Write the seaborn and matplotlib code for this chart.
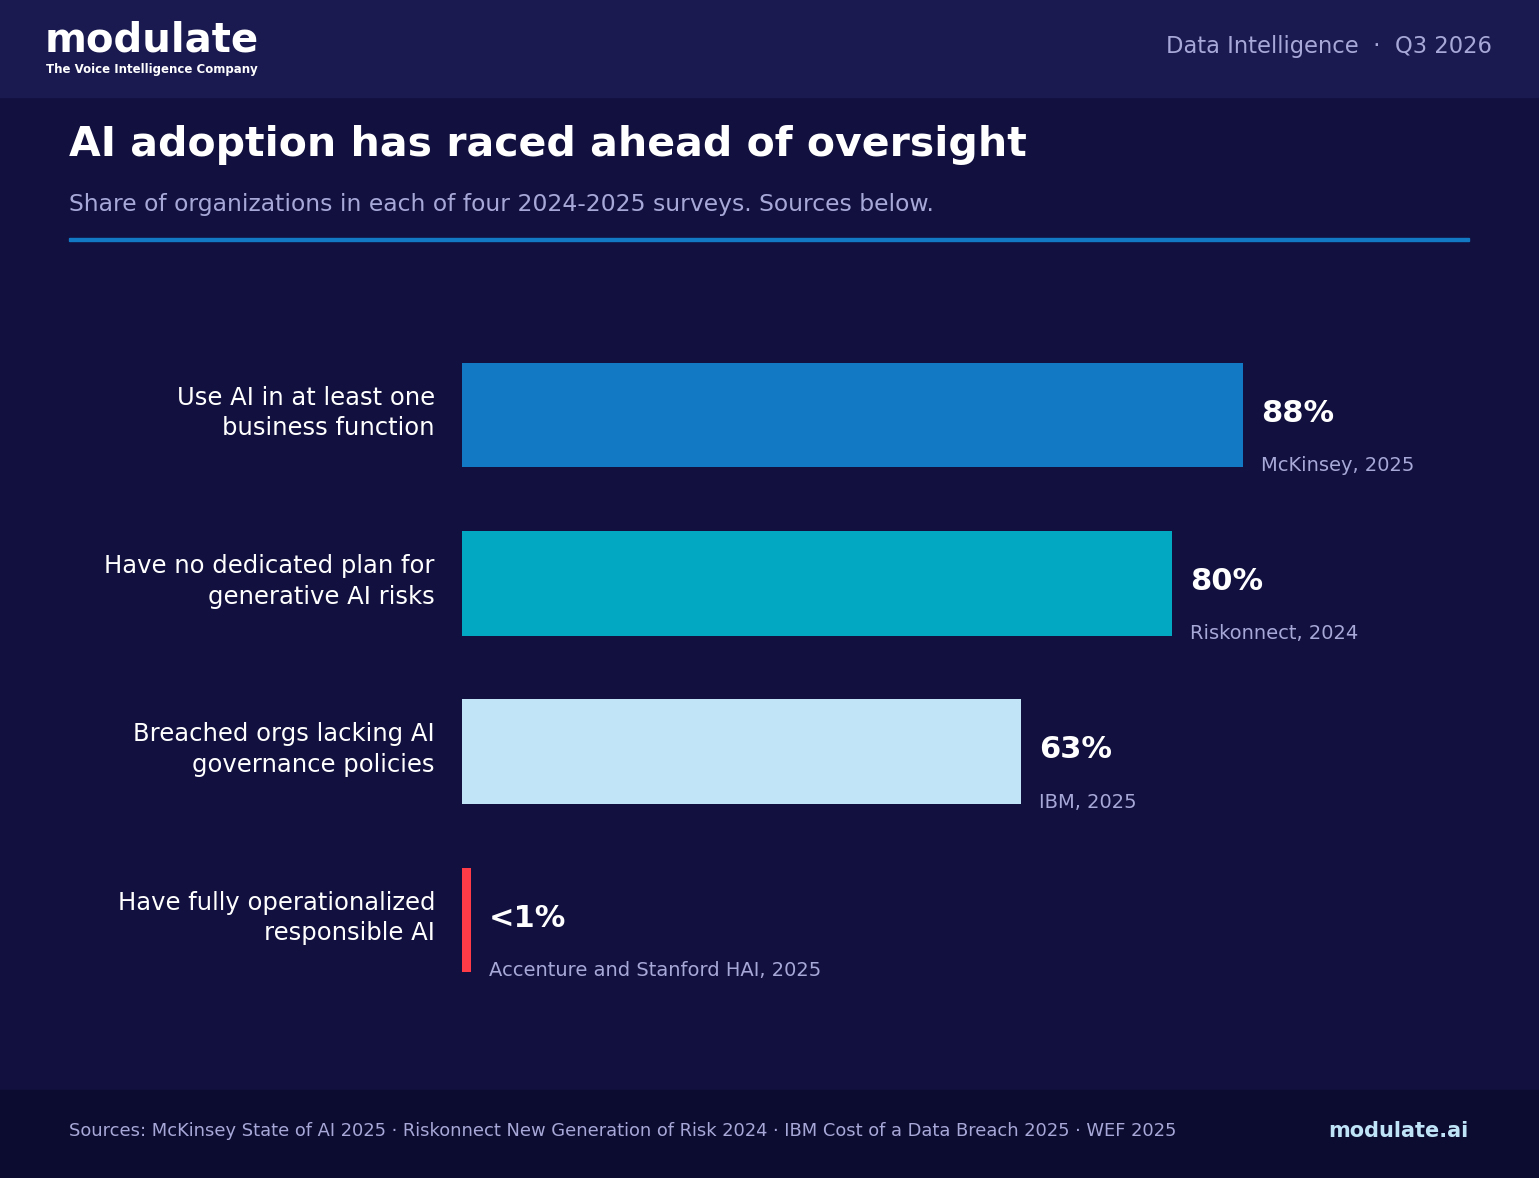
import matplotlib
matplotlib.use("Agg")
import matplotlib.pyplot as plt
import matplotlib.transforms as mtrans
import seaborn as sns
import pandas as pd
from matplotlib.patches import Rectangle

categories = ["Use AI in at least one\nbusiness function",
              "Have no dedicated plan for\ngenerative AI risks",
              "Breached orgs lacking AI\ngovernance policies",
              "Have fully operationalized\nresponsible AI"]
values = [88, 80, 63, 1]
value_labels = ["88%", "80%", "63%", "<1%"]
sources = ["McKinsey, 2025", "Riskonnect, 2024", "IBM, 2025",
           "Accenture and Stanford HAI, 2025"]
colors = ["#1279C4", "#02A8C2", "#C2E4F7", "#FF3B47"]

df = pd.DataFrame({"cat": categories, "val": values})

sns.set_theme(style="white")
plt.rcParams['font.family'] = ['DejaVu Sans']

W, H = 1539, 1178
fig = plt.figure(figsize=(W / 100, H / 100), dpi=100)
fig.patch.set_facecolor("#11103E")
# header and footer bands
fig.patches.append(Rectangle((0, 1 - 97 / H), 1, 97 / H, transform=fig.transFigure,
                             color="#1A1A50", zorder=0))
fig.patches.append(Rectangle((0, 0), 1, 88 / H, transform=fig.transFigure,
                             color="#0C0B30", zorder=0))
fig.patches.append(Rectangle((69 / W, 1 - 241 / H), 1400 / W, 3 / H,
                             transform=fig.transFigure, color="#1279C4", zorder=1))

fig.text(45 / W, 1 - 40 / H, "modulate", color="white", fontsize=29, weight="bold",
         va="center", ha="left")
fig.text(46 / W, 1 - 70 / H, "The Voice Intelligence Company", color="white",
         fontsize=8.5, weight="bold", va="center", ha="left")
fig.text(1492 / W, 1 - 47 / H, "Data Intelligence  ·  Q3 2026", color="#A8A8D8",
         fontsize=16.3, va="center", ha="right")
fig.text(69 / W, 1 - 145 / H, "AI adoption has raced ahead of oversight", color="white",
         fontsize=29.5, weight="bold", va="center", ha="left")
fig.text(69 / W, 1 - 205 / H,
         "Share of organizations in each of four 2024-2025 surveys. Sources below.",
         color="#A8A8D8", fontsize=16.9, va="center", ha="left")
fig.text(69 / W, 1 - 1131 / H,
         "Sources: McKinsey State of AI 2025 · Riskonnect New Generation of Risk 2024 · "
         "IBM Cost of a Data Breach 2025 · WEF 2025",
         color="#A8A8D8", fontsize=12.9, va="center", ha="left")
fig.text(1469 / W, 1 - 1131 / H, "modulate.ai", color="#BFE3F7", fontsize=15,
         weight="bold", va="center", ha="right")

ax = fig.add_axes([462 / W, 1 - 1004 / H, 887.5 / W, 673 / H])
ax.set_facecolor("none")
sns.barplot(data=df, x="val", y="cat", hue="cat", palette=colors, legend=False,
            width=0.62, saturation=1, linewidth=0, ax=ax, orient="h")
ax.set_xlim(0, 100)
ax.set_ylim(3.5, -0.5)
for s in ax.spines.values():
    s.set_visible(False)
ax.set_xticks([])
ax.set_yticks([])
ax.set_xlabel("")
ax.set_ylabel("")

lab_tr = mtrans.offset_copy(ax.get_yaxis_transform(), fig=fig, x=-27, y=2, units="dots")
for i, c in enumerate(categories):
    ax.text(0, i, c, transform=lab_tr, color="white", fontsize=17.5, linespacing=1.35,
            va="center", ha="right")
for i, (v, lab, src) in enumerate(zip(values, value_labels, sources)):
    ax.text(v + 2.05, i - 0.01, lab, color="white", fontsize=22, weight="bold",
            va="center", ha="left")
    ax.text(v + 2.0, i + 0.3, src, color="#A8A8D8", fontsize=14,
            va="center", ha="left")

fig.savefig("out.png", dpi=100, facecolor=fig.get_facecolor())
